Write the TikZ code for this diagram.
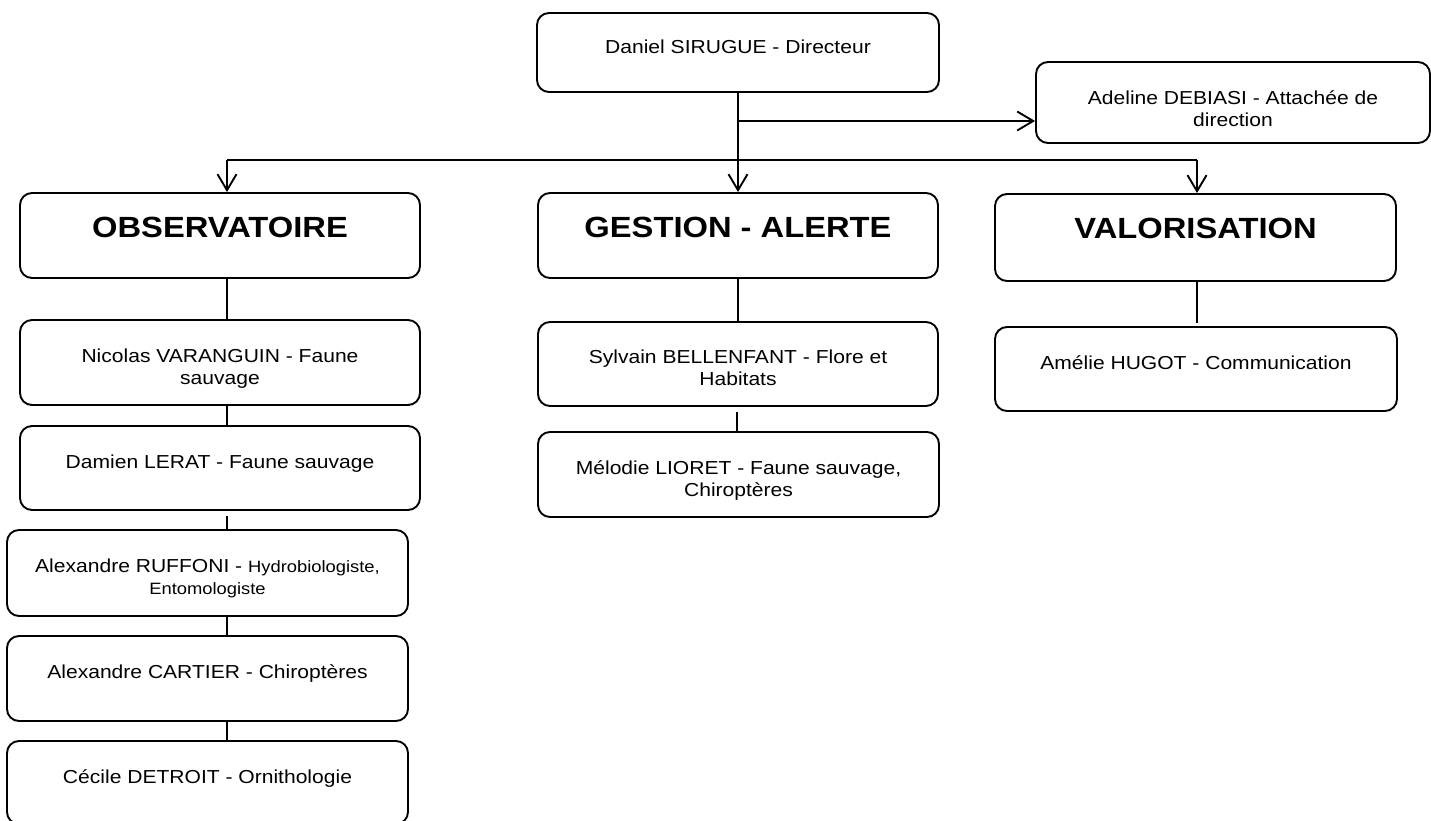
\documentclass[tikz,border=0pt]{standalone}
\usepackage{fontspec}
\setmainfont[FakeStretch=1.12]{Liberation Sans}
\usetikzlibrary{arrows.meta}
\tikzset{
  orgbox/.style={draw=black, line width=1.9pt, rounded corners=12pt, inner sep=0pt, minimum width=#1},
  lbl/.style={anchor=north, inner sep=0pt, align=center, font=\fontsize{18.8}{22}\selectfont},
  title/.style={anchor=north, inner sep=0pt, align=center, font=\fontsize{29.2}{32}\selectfont\bfseries},
  link/.style={line width=1.9pt},
  arr/.style={line width=1.9pt, -{Straight Barb[length=16pt,width=19pt,line width=1.9pt]}}
}
\begin{document}
\begin{tikzpicture}[x=1pt,y=-1pt]
\useasboundingbox (0,0) rectangle (1431,821);
% boxes
\node[orgbox=402, minimum height=79] (dir)  at (738,52.5) {};
\node[orgbox=394, minimum height=81] (adel) at (1233,102.5) {};
\node[orgbox=400, minimum height=85] (obs)  at (220,235.5) {};
\node[orgbox=400, minimum height=85] (gest) at (738,235.5) {};
\node[orgbox=401, minimum height=87] (valo) at (1195.5,237.5) {};
\node[orgbox=400, minimum height=85] (nico) at (220,362.5) {};
\node[orgbox=400, minimum height=84] (dami) at (220,468) {};
\node[orgbox=401, minimum height=86] (ruff) at (207.5,573) {};
\node[orgbox=401, minimum height=85] (cart) at (207.5,678.5) {};
\node[orgbox=401, minimum height=83] (ceci) at (207.5,782.5) {};
\node[orgbox=400, minimum height=84] (sylv) at (738,364) {};
\node[orgbox=401, minimum height=85] (melo) at (738.5,474.5) {};
\node[orgbox=402, minimum height=84] (amel) at (1196,369) {};
% texts
\node[lbl] (dirt) at ([yshift=-27.5pt]dir.north) {Daniel SIRUGUE - Directeur};
\node[lbl] (adelt) at ([yshift=-29pt]adel.north) {Adeline DEBIASI - Attachée de\\direction};
\node[title] (obst) at ([yshift=-25pt]obs.north) {OBSERVATOIRE};
\node[title] (gestt) at ([yshift=-25pt]gest.north) {GESTION - ALERTE};
\node[title] (valot) at ([yshift=-25pt]valo.north) {VALORISATION};
\node[lbl] (nicot) at ([yshift=-30pt]nico.north) {Nicolas VARANGUIN - Faune\\sauvage};
\node[lbl] (damit) at ([yshift=-29.5pt]dami.north) {Damien LERAT - Faune sauvage};
\node[lbl] (rufft) at ([yshift=-30pt]ruff.north) {Alexandre RUFFONI - {\fontsize{16.4}{22}\selectfont Hydrobiologiste,}\\{\fontsize{16.4}{22}\selectfont Entomologiste}};
\node[lbl] (cartt) at ([yshift=-29.5pt]cart.north) {Alexandre CARTIER - Chiroptères};
\node[lbl] (cecit) at ([yshift=-29.5pt]ceci.north) {Cécile DETROIT - Ornithologie};
\node[lbl] (sylvt) at ([yshift=-29pt]sylv.north) {Sylvain BELLENFANT - Flore et\\Habitats};
\node[lbl] (melot) at ([yshift=-29pt]melo.north) {Mélodie LIORET - Faune sauvage,\\Chiroptères};
\node[lbl] (amelt) at ([yshift=-29pt]amel.north) {Amélie HUGOT - Communication};
% junctions
\coordinate (ja) at (738,121);
\coordinate (jb) at (738,160);
\coordinate (jl) at (227,160);
\coordinate (jr) at (1197,160);
\coordinate (jdr) at (227,516);
\coordinate (jsm) at (737,412);
\coordinate (jva) at (1197,323);
% connectors
\draw[arr] (dir.south) -- (gest.north);
\draw[arr] (ja) -- (ja -| adel.west);
\draw[link] (jl) -- (jr);
\draw[arr] (jl) -- (jl |- obs.north);
\draw[arr] (jr) -- (jr |- valo.north);
\draw[link] (jl |- obs.south) -- (jl |- nico.north);
\draw[link] (jl |- nico.south) -- (jl |- dami.north);
\draw[link] (jdr) -- (jdr |- ruff.north);
\draw[link] (jl |- ruff.south) -- (jl |- cart.north);
\draw[link] (jl |- cart.south) -- (jl |- ceci.north);
\draw[link] (gest.south) -- (sylv.north);
\draw[link] (jsm) -- (jsm |- melo.north);
\draw[link] (jr |- valo.south) -- (jva);
\end{tikzpicture}
\end{document}
